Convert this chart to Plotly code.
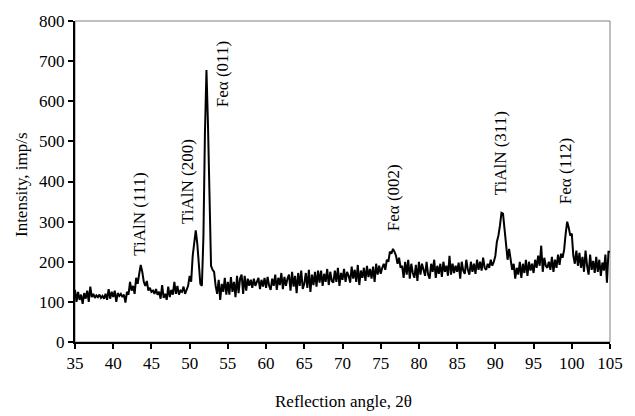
import numpy as np
import plotly.graph_objects as go

# 2-theta grid: start, step
angle_start = 35.0
angle_step = 0.2

intensity = [
    130,100,125,105,118,95,122,108,128,100,
    138,112,120,110,116,112,118,110,115,108,
    120,105,132,108,125,112,128,100,122,115,
    120,112,118,98,125,118,150,128,140,120,
    160,145,170,192,175,150,140,152,128,135,
    125,128,120,132,118,125,108,142,110,120,
    105,138,112,130,118,150,120,140,118,128,
    125,138,120,132,140,165,150,215,255,278,
    245,190,145,140,260,520,678,540,330,190,
    180,175,140,120,155,105,145,125,160,118,
    150,118,162,125,150,112,165,122,158,168,
    120,165,128,158,140,155,135,158,140,150,
    160,132,155,138,160,135,162,140,130,158,
    140,168,130,160,142,172,132,162,140,158,
    168,128,175,138,165,122,172,140,178,132,
    145,172,135,180,125,168,142,175,138,178,
    148,178,140,170,150,182,142,175,152,148,
    178,150,185,140,172,155,182,150,175,165,
    148,188,158,180,150,192,142,178,160,185,
    152,190,162,182,158,188,150,195,168,190,
    170,185,195,180,205,200,225,220,232,225,
    215,195,210,185,190,160,200,168,205,158,
    195,172,160,192,152,200,168,195,180,165,
    200,168,158,195,175,205,160,190,170,195,
    162,200,175,190,165,215,168,195,172,190,
    175,198,158,200,178,170,205,180,168,200,
    175,195,170,205,180,200,178,210,185,180,
    195,185,205,190,200,215,250,265,290,322,
    320,280,240,205,232,210,180,195,158,185,
    168,200,160,195,172,205,165,200,178,195,
    172,205,185,215,190,240,175,210,190,185,
    200,180,212,175,205,185,218,192,220,210,
    230,270,300,285,265,270,215,195,228,190,
    222,185,212,175,228,190,168,218,180,202,
    172,212,175,205,165,198,178,218,148,225,
    225,
]
angle = np.round(angle_start + angle_step * np.arange(len(intensity)), 2)

peak_labels = ["TiAlN (111)", "TiAlN (200)", "Feα (011)", "Feα (002)", "TiAlN (311)", "Feα (112)"]
label_x = [43.35, 49.8, 54.4, 76.7, 90.6, 99.2]
label_y = [319, 399, 668, 360, 470, 425]

x_ticks = list(range(35, 106, 5))
y_ticks = list(range(0, 801, 100))

FONT = "Liberation Serif, Times New Roman, serif"
FS = 17

fig = go.Figure()
fig.add_trace(go.Scatter(x=angle, y=intensity, mode="lines",
                         line=dict(color="black", width=2), showlegend=False))

for t, lx, ly in zip(peak_labels, label_x, label_y):
    fig.add_annotation(x=lx, y=ly, text=t, textangle=-90, showarrow=False,
                       xanchor="center", yanchor="middle",
                       font=dict(family=FONT, size=FS, color="black"))

fig.add_annotation(xref="paper", yref="paper", x=-0.101, y=0.492,
                   text="Intensity, imp/s", textangle=-90, showarrow=False,
                   xanchor="center", yanchor="middle",
                   font=dict(family=FONT, size=FS, color="black"))
fig.add_annotation(xref="paper", yref="paper", x=0.501, y=-0.185,
                   text="Reflection angle, 2θ", showarrow=False,
                   xanchor="center", yanchor="middle",
                   font=dict(family=FONT, size=FS, color="black"))

fig.add_shape(type="rect", xref="paper", yref="paper", x0=0, y0=0, x1=1, y1=1,
              line=dict(color="#808080", width=1), layer="below")

fig.update_xaxes(range=[35, 105], tickvals=x_ticks, showgrid=False, zeroline=False,
                 showline=True, linecolor="black", linewidth=2,
                 ticks="outside", ticklen=5, tickwidth=1.5, tickcolor="black",
                 tickfont=dict(family=FONT, size=FS, color="black"))
fig.update_yaxes(range=[0, 800], tickvals=y_ticks, showgrid=False, zeroline=False,
                 showline=True, linecolor="black", linewidth=2,
                 ticks="outside", ticklen=5, tickwidth=1.5, tickcolor="black",
                 tickfont=dict(family=FONT, size=FS, color="black"))

fig.update_layout(width=635, height=416, margin=dict(l=75, r=15, t=13, b=74),
                  plot_bgcolor="white", paper_bgcolor="white")

fig.write_html("out.html")
